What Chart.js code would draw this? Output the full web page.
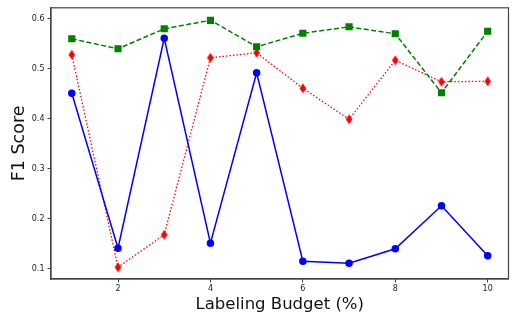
<!DOCTYPE html>
<html>
<head>
<meta charset="utf-8">
<script src="https://cdn.jsdelivr.net/npm/chart.js@4"></script>
<style>
  html, body { margin: 0; padding: 0; background: #fff; }
  #wrap { width: 514px; height: 317px; }
</style>
</head>
<body>
<div id="wrap"><canvas id="chart" width="514" height="317"></canvas></div>
<script>
// labeling budget (%) on x
const budgets = [1, 2, 3, 4, 5, 6, 7, 8, 9, 10];
const blueScores = [0.451, 0.141, 0.561, 0.151, 0.492, 0.115, 0.111, 0.140, 0.226, 0.126];
const greenScores = [0.560, 0.540, 0.580, 0.597, 0.544, 0.571, 0.584, 0.570, 0.452, 0.575];
const redScores = [0.528, 0.103, 0.168, 0.522, 0.532, 0.461, 0.399, 0.517, 0.474, 0.475];
const xTicks = [2, 4, 6, 8, 10];
const yTicks = [0.1, 0.2, 0.3, 0.4, 0.5, 0.6];

// thin diamond marker like matplotlib 'd'
function thinDiamond(color) {
  const c = document.createElement("canvas");
  c.width = 8; c.height = 11;
  const g = c.getContext("2d");
  g.fillStyle = color;
  g.beginPath();
  g.moveTo(4, 0.5);
  g.lineTo(7.3, 5.5);
  g.lineTo(4, 10.5);
  g.lineTo(0.7, 5.5);
  g.closePath();
  g.fill();
  return c;
}

function pts(ys) {
  return budgets.map((x, i) => ({ x: x, y: ys[i] }));
}

const frame = {
  id: "frame",
  afterDraw(chart) {
    const a = chart.chartArea, ctx = chart.ctx;
    ctx.save();
    ctx.strokeStyle = "#444";
    ctx.lineWidth = 1.2;
    ctx.strokeRect(a.left, a.top, a.right - a.left, a.bottom - a.top);
    ctx.restore();
  }
};

const tickFont = { family: "DejaVu Sans", size: 8 };

new Chart(document.getElementById("chart").getContext("2d"), {
  type: "line",
  data: {
    datasets: [
      {
        data: pts(blueScores),
        borderColor: "#0000ff",
        backgroundColor: "#0000ff",
        borderWidth: 1.5,
        pointStyle: "circle",
        pointRadius: 3,
        pointHoverRadius: 3,
        tension: 0,
      },
      {
        data: pts(greenScores),
        borderColor: "#008000",
        backgroundColor: "#008000",
        borderWidth: 1.5,
        borderDash: [5, 2.5],
        pointStyle: "rect",
        pointRadius: 4,
        pointHoverRadius: 4,
        tension: 0,
      },
      {
        data: pts(redScores),
        borderColor: "#ff0000",
        backgroundColor: "#ff0000",
        borderWidth: 1.3,
        borderDash: [1.5, 2],
        pointStyle: thinDiamond("#ff0000"),
        tension: 0,
      },
    ],
  },
  options: {
    responsive: false,
    animation: false,
    layout: { padding: { left: 0, right: 2, top: 6, bottom: 0 } },
    plugins: { legend: { display: false }, tooltip: { enabled: false } },
    scales: {
      x: {
        type: "linear",
        min: 0.55,
        max: 10.45,
        afterBuildTicks: (s) => { s.ticks = xTicks.map((v) => ({ value: v })); },
        afterFit: (s) => { s.height = 38; },
        grid: { drawOnChartArea: false, drawTicks: true, tickLength: 3.5, color: "#444" },
        border: { display: true, color: "#444", width: 1.2 },
        ticks: { font: tickFont, color: "#222", padding: 2, maxRotation: 0 },
        title: {
          display: true,
          text: "Labeling Budget (%)",
          font: { family: "DejaVu Sans", size: 16.5 },
          color: "#111",
          padding: { top: 0, bottom: 2 },
        },
      },
      y: {
        min: 0.0795,
        max: 0.622,
        afterBuildTicks: (s) => { s.ticks = yTicks.map((v) => ({ value: v })); },
        afterFit: (s) => { s.width = 51; },
        grid: { drawOnChartArea: false, drawTicks: true, tickLength: 3.5, color: "#444" },
        border: { display: true, color: "#444", width: 1.2 },
        ticks: { font: tickFont, color: "#222", padding: 3, callback: (v) => v.toFixed(1) },
        title: {
          display: true,
          text: "F1 Score",
          font: { family: "DejaVu Sans", size: 17.5 },
          color: "#111",
          padding: { top: 9, bottom: 4 },
        },
      },
    },
  },
  plugins: [frame],
});
</script>
</body>
</html>
